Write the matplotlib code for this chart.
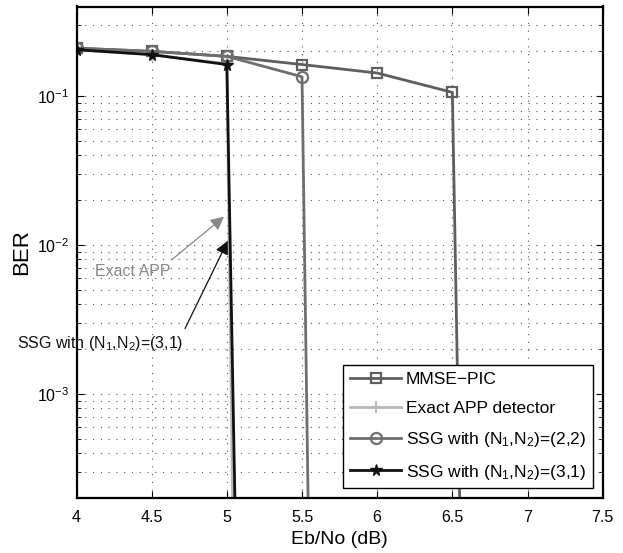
import matplotlib.pyplot as plt
from matplotlib.ticker import LogLocator, NullFormatter
import numpy as np

plt.rcParams['font.family'] = ['Liberation Sans', 'DejaVu Sans']
plt.rcParams['mathtext.fontset'] = 'custom'
plt.rcParams['mathtext.rm'] = 'Liberation Sans'
plt.rcParams['mathtext.it'] = 'Liberation Sans:italic'
plt.rcParams['mathtext.bf'] = 'Liberation Sans:bold'

# Eb/No (dB) points of each curve; the last value of each curve is the
# "zero" BER point that makes the line fall off the bottom of the axes
ebno_mmse = [4, 4.5, 5, 5.5, 6, 6.5, 7]
ber_mmse = [0.21, 0.2, 0.185, 0.163, 0.143, 0.106, 1e-29]

ebno_app = [4, 4.5, 5, 5.5]
ber_app = [0.205, 0.19, 0.165, 1e-39]

ebno_ssg22 = [4, 4.5, 5, 5.5, 6]
ber_ssg22 = [0.21, 0.2, 0.185, 0.135, 1e-36]

ebno_ssg31 = [4, 4.5, 5, 5.5]
ber_ssg31 = [0.205, 0.19, 0.163, 1e-28]

labels = ['MMSE\u2212PIC', 'Exact APP detector',
          r'SSG with (N$_1$,N$_2$)=(2,2)', r'SSG with (N$_1$,N$_2$)=(3,1)']

fig = plt.figure(figsize=(6.23, 5.53), dpi=100)
ax = fig.add_axes([76.5/623, 1 - 498/553, (602.7-76.5)/623, (498-6.5)/553])

ax.semilogy(ebno_mmse, ber_mmse, color='#5e5e5e', lw=2, marker='s', ms=7,
            mfc='none', mew=1.6, label=labels[0])
ax.semilogy(ebno_app, ber_app, color='#b8b8b8', lw=2, marker='+', ms=9,
            mew=1.5, label=labels[1])
ax.semilogy(ebno_ssg22, ber_ssg22, color='#6e6e6e', lw=2, marker='o', ms=8,
            mfc='none', mew=1.6, label=labels[2])
ax.semilogy(ebno_ssg31, ber_ssg31, color='#111111', lw=2, marker='*', ms=8.5,
            label=labels[3])

ax.set_xlim(4, 7.5)
ax.set_ylim(2e-4, 0.4)
ax.set_xticks(np.arange(4, 7.51, 0.5))
ax.set_xticklabels(['4', '4.5', '5', '5.5', '6', '6.5', '7', '7.5'])
ax.yaxis.set_major_locator(LogLocator(base=10))
ax.yaxis.set_minor_locator(LogLocator(base=10, subs=np.arange(2, 10)))
ax.yaxis.set_minor_formatter(NullFormatter())

ax.grid(True, which='major', ls=(0, (1, 6)), color='#555555', lw=0.8)
ax.grid(True, which='minor', axis='y', ls=(0, (1, 6)), color='#555555', lw=0.8)
ax.tick_params(which='both', direction='in', top=True, right=True, labelsize=11.5)
ax.tick_params(axis='x', which='major', pad=9)
ax.tick_params(axis='y', which='major', pad=5)
ax.tick_params(which='major', length=5, width=0.8)
ax.tick_params(which='minor', length=3, width=0.6)
for s in ax.spines.values():
    s.set_linewidth(1.6)

ax.set_xlabel('Eb/No (dB)', fontsize=14, labelpad=4)
ax.set_ylabel('BER', fontsize=16, labelpad=4)

# annotations
ax.annotate('', xy=(4.981, 0.0155), xytext=(4.633, 0.00796),
            arrowprops=dict(arrowstyle='-|>', color='#888888', lw=0.9,
                            mutation_scale=20, shrinkA=0, shrinkB=0))
ax.text(4.123, 0.00665, 'Exact APP', color='#888888', fontsize=11.5,
        ha='left', va='center')
ax.annotate('', xy=(5.006, 0.01067), xytext=(4.722, 0.00275),
            arrowprops=dict(arrowstyle='-|>', color='#111111', lw=0.9,
                            mutation_scale=20, shrinkA=0, shrinkB=0))
ax.text(3.606, 0.00204, r'SSG with (N$_1$,N$_2$)=(3,1)', color='#111111',
        fontsize=11.5, ha='left', va='baseline', clip_on=False)

leg = ax.legend(loc='lower right', fontsize=12.5, handlelength=2.9,
                borderaxespad=0.55, fancybox=False, framealpha=1,
                edgecolor='black', labelspacing=0.8, borderpad=0.4,
                handletextpad=0.3)
leg.get_frame().set_linewidth(1.0)

fig.savefig('out.png', dpi=100)
